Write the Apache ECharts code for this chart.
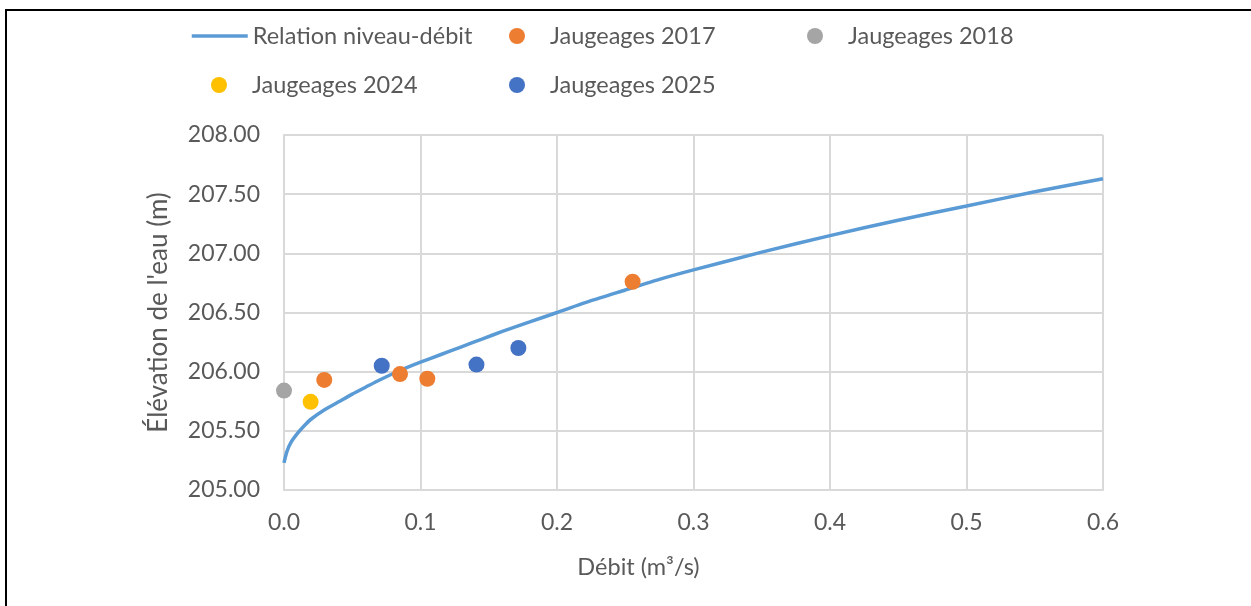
<!DOCTYPE html>
<html>
<head>
<meta charset="utf-8">
<script src="https://cdn.jsdelivr.net/npm/echarts@6/dist/echarts.min.js"></script>
<style>
  html, body { margin: 0; padding: 0; background: #fff; }
  #chart { width: 1251px; height: 606px; }
  #frame {
    position: absolute; left: 5px; top: 9px; right: -10px; bottom: -10px;
    border-left: 2px solid #000; border-top: 2px solid #000; pointer-events: none;
  }
</style>
</head>
<body>
<div id="chart"></div>
<div id="frame"></div>
<script>
// relation niveau-débit
const curveQ = [0, 0.002, 0.005, 0.01, 0.015, 0.02, 0.03, 0.04, 0.05, 0.06, 0.07, 0.085, 0.1, 0.115, 0.13, 0.145, 0.16, 0.18, 0.2, 0.225, 0.25, 0.275, 0.3, 0.35, 0.4, 0.45, 0.5, 0.55, 0.6];
const curveH = [205.23, 205.32, 205.40, 205.48, 205.545, 205.60, 205.68, 205.745, 205.81, 205.87, 205.93, 206.01, 206.08, 206.145, 206.21, 206.275, 206.34, 206.42, 206.50, 206.60, 206.69, 206.78, 206.86, 207.01, 207.15, 207.28, 207.40, 207.52, 207.63];

// jaugeages [débit, élévation]
const jaug2017 = [[0.0295, 205.93], [0.085, 205.98], [0.105, 205.94], [0.2554, 206.76]];
const jaug2018 = [[0.0, 205.84]];
const jaug2024 = [[0.0195, 205.745]];
const jaug2025 = [[0.0716, 206.05], [0.141, 206.06], [0.1717, 206.20]];

const xTicks = { min: 0, max: 0.6, interval: 0.1 };
const yTicks = { min: 205, max: 208, interval: 0.5 };

const textColor = '#595959';
const font = 'Lato';
const gridColor = '#D9D9D9';

const chart = echarts.init(document.getElementById('chart'));

function legendAt(name, left, top) {
  return {
    data: [name], left: left, top: top,
    itemWidth: 56, itemHeight: 16, itemGap: 0,
    textStyle: { color: textColor, fontSize: 23.5, fontFamily: font }
  };
}

function dots(name, data, color) {
  return {
    name: name, type: 'scatter', data: data,
    symbol: 'circle', symbolSize: 16,
    itemStyle: { color: color, opacity: 1 },
    z: 3
  };
}

const lineLegend = legendAt('Relation niveau-débit', 185, 19);
lineLegend.data = [{ name: 'Relation niveau-débit', itemStyle: { opacity: 0 } }];
lineLegend.lineStyle = { width: 3.5 };

chart.setOption({
  animation: false,
  backgroundColor: '#fff',
  textStyle: { fontFamily: font },
  legend: [
    lineLegend,
    legendAt('Jaugeages 2017', 504, 19),
    legendAt('Jaugeages 2018', 802, 19),
    legendAt('Jaugeages 2024', 206, 68),
    legendAt('Jaugeages 2025', 504, 68)
  ],
  grid: { left: 284, right: 148, top: 135, bottom: 116 },
  xAxis: {
    type: 'value', min: xTicks.min, max: xTicks.max, interval: xTicks.interval,
    name: 'Débit (m³/s)', nameLocation: 'middle', nameGap: 65,
    nameTextStyle: { color: textColor, fontSize: 23.5, fontFamily: font, padding: [0, 110, 0, 0] },
    axisLine: { lineStyle: { color: gridColor, width: 2 } },
    axisTick: { show: false },
    axisLabel: { color: textColor, fontSize: 23, fontFamily: font, margin: 21, formatter: v => v.toFixed(1) },
    splitLine: { show: true, lineStyle: { color: gridColor, width: 2 } }
  },
  yAxis: {
    type: 'value', min: yTicks.min, max: yTicks.max, interval: yTicks.interval,
    name: "Élévation de l'eau (m)", nameLocation: 'middle', nameGap: 112,
    nameTextStyle: { color: textColor, fontSize: 26, fontFamily: font },
    axisLine: { show: true, lineStyle: { color: gridColor, width: 2 } },
    axisTick: { show: false },
    axisLabel: { color: textColor, fontSize: 23, fontFamily: font, margin: 24, formatter: v => v.toFixed(2) },
    splitLine: { show: true, lineStyle: { color: gridColor, width: 2 } }
  },
  series: [
    {
      name: 'Relation niveau-débit', type: 'line',
      data: curveQ.map((q, i) => [q, curveH[i]]),
      smooth: 0.2, symbol: 'none',
      lineStyle: { color: '#5B9BD5', width: 3.5 },
      itemStyle: { color: '#5B9BD5' },
      z: 2
    },
    dots('Jaugeages 2017', jaug2017, '#ED7D31'),
    dots('Jaugeages 2018', jaug2018, '#A5A5A5'),
    dots('Jaugeages 2024', jaug2024, '#FFC000'),
    dots('Jaugeages 2025', jaug2025, '#4472C4')
  ]
});
</script>
</body>
</html>
